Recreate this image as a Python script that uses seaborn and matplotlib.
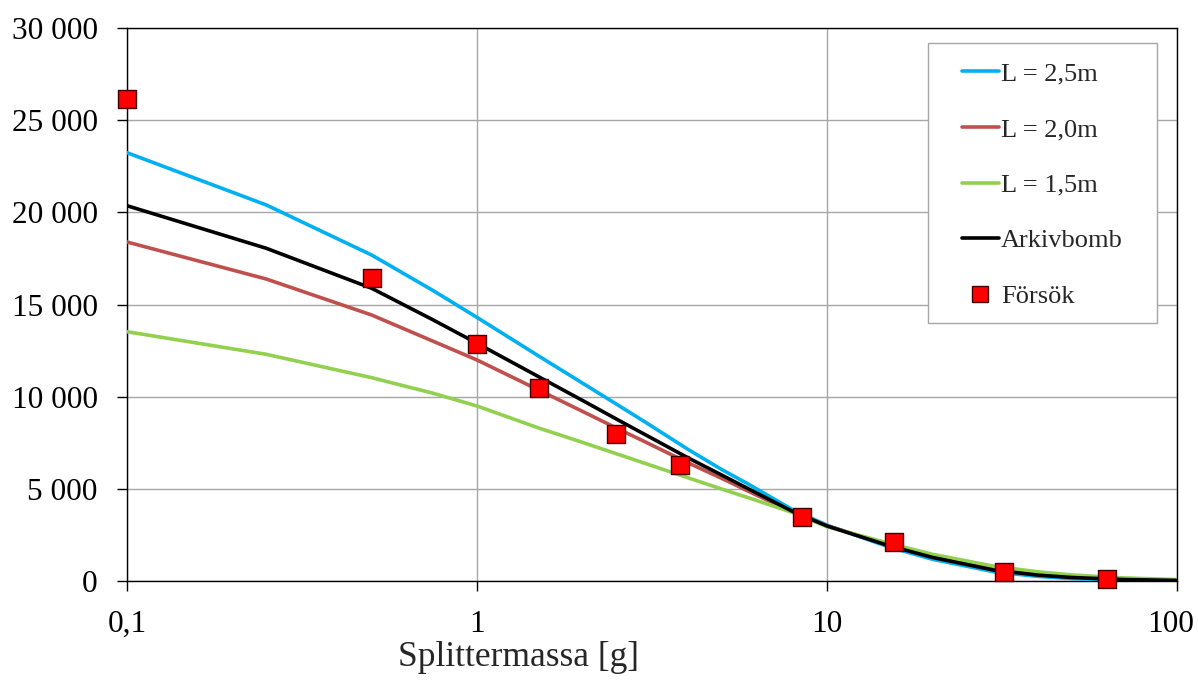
import numpy as np
import pandas as pd
import matplotlib
matplotlib.use("Agg")
import matplotlib.pyplot as plt
import matplotlib.ticker as mticker
import matplotlib.transforms as mtransforms
from matplotlib.lines import Line2D
from matplotlib.patches import Rectangle
import seaborn as sns

# ---------------- data ----------------
x_calc = [0.1, 0.25, 0.5, 0.75, 1, 1.5, 2, 2.5, 3, 4, 5, 6, 8, 10, 15, 20, 30, 40, 50, 70, 100]
l25 = [23235, 20400, 17685, 15750, 14300, 12206, 10740, 9600, 8664, 7150, 6049, 5225, 3850, 3030, 1850, 1180, 500, 250, 130, 50, 15]
l20 = [18390, 16383, 14430, 13003, 11990, 10362, 9206, 8300, 7578, 6420, 5570, 4845, 3720, 3000, 1950, 1320, 640, 360, 220, 100, 40]
l15 = [13525, 12298, 11030, 10183, 9494, 8300, 7524, 6906, 6401, 5604, 4991, 4500, 3705, 2946, 2050, 1450, 800, 500, 330, 170, 80]
arkiv = [20360, 18050, 15880, 14160, 12895, 11083, 9800, 8790, 7975, 6690, 5750, 4975, 3760, 2984, 1920, 1280, 590, 320, 190, 80, 30]

x_test = [0.1, 0.5, 1, 1.5, 2.5, 3.8, 8.5, 15.5, 32, 63]
y_test = [26150, 16440, 12850, 10470, 7975, 6300, 3490, 2110, 510, 100]

series_names = ["L = 2,5m", "L = 2,0m", "L = 1,5m", "Arkivbomb"]
series_colors = ["#00B0F0", "#C0504D", "#92D050", "#000000"]
test_name = "Försök"

y_ticks = [0, 5000, 10000, 15000, 20000, 25000, 30000]
x_ticks = [0.1, 1, 10, 100]
x_tick_labels = ["0,1", "1", "10", "100"]
x_label = "Splittermassa [g]"

# ---------------- build tables ----------------
df = pd.concat([
    pd.DataFrame({"x": x_calc, "y": vals, "serie": name})
    for name, vals in zip(series_names, [l25, l20, l15, arkiv])
], ignore_index=True)
df_test = pd.DataFrame({"x": x_test, "y": y_test})

# ---------------- style ----------------
sns.set_theme(style="white")
plt.rcParams["font.family"] = ["Liberation Serif", "DejaVu Serif"]
plt.rcParams["axes.linewidth"] = 1.0

W, H = 1198, 691
fig = plt.figure(figsize=(W / 100, H / 100), dpi=100)
L, R, T, B = 127, 1177, 28, 581
ax = fig.add_axes([L / W, 1 - B / H, (R - L) / W, (B - T) / H])

palette = dict(zip(series_names, series_colors))
sns.lineplot(data=df, x="x", y="y", hue="serie", palette=palette,
             linewidth=2.6, ax=ax, legend=False, zorder=3,
             hue_order=series_names)
for line in ax.get_lines():
    c = matplotlib.colors.to_hex(line.get_color())
    if c == "#000000":
        line.set_zorder(4)

sns.scatterplot(data=df_test, x="x", y="y", marker="s", s=150,
                color="#FF0000", edgecolor="#400000", linewidth=1.0,
                ax=ax, zorder=5, legend=False, clip_on=False)

ax.set_xscale("log")
ax.set_xlim(0.1, 100)
ax.set_ylim(0, 30000)
ax.set_xticks(x_ticks)
ax.xaxis.set_major_formatter(mticker.FixedFormatter(x_tick_labels))
ax.xaxis.set_minor_locator(mticker.NullLocator())
ax.set_yticks(y_ticks)
ax.yaxis.set_major_formatter(mticker.FuncFormatter(lambda v, p: f"{int(v):,}".replace(",", " ")))

ax.grid(True, which="major", color="#A6A6A6", linewidth=1.0, zorder=0)
ax.set_axisbelow(True)
for s in ax.spines.values():
    s.set_color("#000000")
    s.set_linewidth(1.0)
ax.tick_params(axis="both", which="major", labelsize=22.5, colors="#000000",
               direction="out", length=7, width=1.0, left=True, bottom=True)
ax.tick_params(axis="y", pad=14)
ax.tick_params(axis="x", pad=14)
ax.set_xlabel("")
ax.set_ylabel("")

# nudge the last x tick label left so it stays inside the figure
fig.canvas.draw()
last = ax.get_xticklabels()[-1]
last.set_transform(last.get_transform() +
                   mtransforms.ScaledTranslation(-6 / 100, 0, fig.dpi_scale_trans))

fig.text(519 / W, 1 - 657 / H, x_label, fontsize=25.5, ha="center", va="center")

# legend frame
lx0, lx1, ly0, ly1 = 928, 1157, 43, 323
frame = Rectangle(((lx0 - L) / (R - L), (B - ly1) / (B - T)),
                  (lx1 - lx0) / (R - L), (ly1 - ly0) / (B - T),
                  transform=ax.transAxes, facecolor="white", edgecolor="#A6A6A6",
                  linewidth=1.0, zorder=6)
ax.add_patch(frame)

handles = [Line2D([0], [0], color=c, lw=2.6) for c in series_colors]
handles.append(Line2D([0], [0], marker="s", color="none", markerfacecolor="#FF0000",
                      markeredgecolor="#400000", markersize=12, markeredgewidth=1.0))
labels = series_names + [test_name]
leg = ax.legend(handles, labels, loc="upper left",
                bbox_to_anchor=((962 - L) / (R - L), (B - 62) / (B - T)),
                frameon=False, fontsize=19, borderpad=0, borderaxespad=0,
                handlelength=1.4, handletextpad=0.08, labelspacing=1.22)
leg.set_zorder(7)

fig.savefig("out.png", dpi=100)
